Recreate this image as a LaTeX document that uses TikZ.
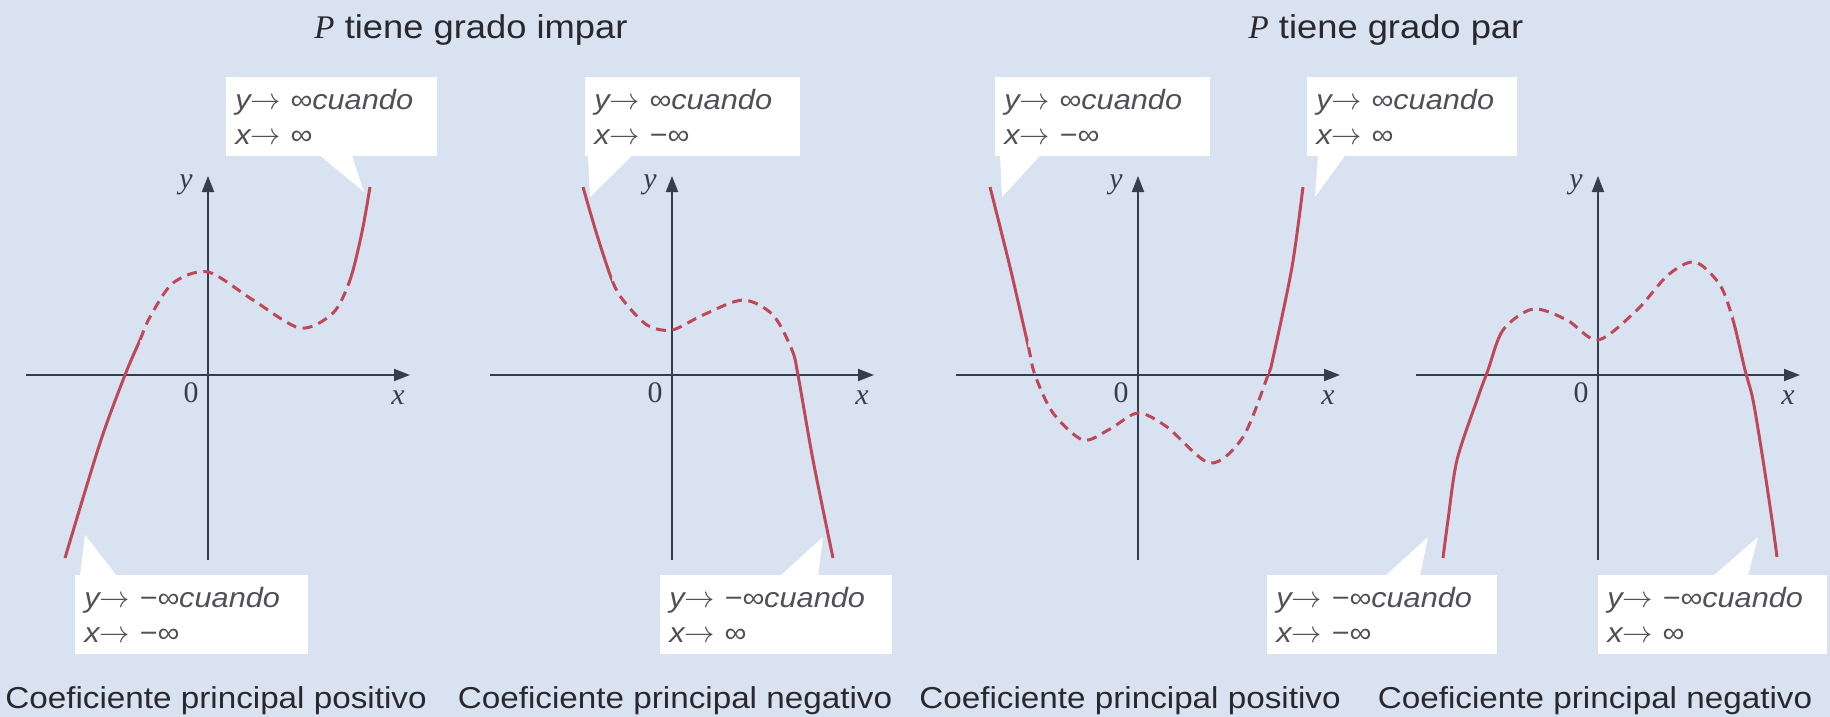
\documentclass[tikz,border=0pt]{standalone}
\usepackage{fontspec}
\setmainfont{Liberation Sans}[FakeStretch=1.1]
\newfontfamily\axfont{Liberation Serif}
\usetikzlibrary{arrows.meta,positioning,calc}
\definecolor{bgblue}{RGB}{216,226,240}
\definecolor{curvered}{RGB}{190,72,88}
\definecolor{axisgray}{RGB}{55,62,75}
\definecolor{txtgray}{RGB}{40,40,45}
\definecolor{callgray}{RGB}{80,80,88}

\tikzset{
  axisline/.style={axisgray, line width=1.1pt, -{Triangle[length=0.32cm,width=0.24cm]}},
  axlab/.style={font=\axfont\fontsize{17}{20}\selectfont, text=axisgray, inner sep=0pt},
  curvetail/.style={curvered, line width=1.7pt},
  curvebody/.style={curvered, line width=1.7pt, dash pattern=on 0.2cm off 0.13cm},
  note/.style={fill=white, anchor=north west, align=left, inner xsep=0.18cm, inner ysep=0pt,
    minimum height=1.58cm, text width=#1, text=callgray,
    font=\fontsize{15.9}{20}\selectfont\itshape},
  headline/.style={font=\fontsize{18.8}{22}\selectfont, text=txtgray, anchor=base},
  footline/.style={font=\fontsize{17.2}{20}\selectfont, text=txtgray, anchor=base},
}
\newcommand\arr{$\rightarrow$}

\begin{document}
\begin{tikzpicture}[x=0.02cm, y=-0.02cm]
  \fill[bgblue] (0,0) rectangle (1830,717);
  \useasboundingbox (0,0) rectangle (1830,717);

  % titles and captions
  \node[headline] (odd) at (471,38) {{\axfont\itshape P} tiene grado impar};
  \node[headline] (even) at (1386,38) {{\axfont\itshape P} tiene grado par};
  \node[footline] (capa) at (216,708) {Coeficiente principal positivo};
  \node[footline] (capb) at (675,708) {Coeficiente principal negativo};
  \node[footline] (capc) at (1130,708) {Coeficiente principal positivo};
  \node[footline] (capd) at (1595,708) {Coeficiente principal negativo};

  % callout boxes
  \node[note=3.86cm] (ca) at (226,77) {y\arr{} ∞cuando\\x\arr{} ∞};
  \node[note=4.3cm] (cb) at (75,575) {y\arr{} −∞cuando\\x\arr{} −∞};
  \node[note=3.94cm] (cc) at (585,77) {y\arr{} ∞cuando\\x\arr{} −∞};
  \node[note=4.28cm] (cd) at (660,575) {y\arr{} −∞cuando\\x\arr{} ∞};
  \node[note=3.94cm] (ce) at (995,77) {y\arr{} ∞cuando\\x\arr{} −∞};
  \node[note=3.84cm] (cf) at (1307,77) {y\arr{} ∞cuando\\x\arr{} ∞};
  \node[note=4.24cm] (cg) at (1267,575) {y\arr{} −∞cuando\\x\arr{} −∞};
  \node[note=4.22cm] (ch) at (1598,575) {y\arr{} −∞cuando\\x\arr{} ∞};

  \coordinate (ta) at (364,192);
  \coordinate (tb) at (85,535);
  \coordinate (tc) at (590,197);
  \coordinate (td) at (823,537);
  \coordinate (te) at (1002,197);
  \coordinate (tf) at (1315,197);
  \coordinate (tg) at (1428,537);
  \coordinate (th) at (1758,537);

  \fill[white] ($(ca.south west)+(94,-1)$) -- ($(ca.south west)+(126,-1)$) -- (ta) -- cycle;
  \fill[white] ($(cb.north west)+(5,1)$) -- ($(cb.north west)+(42,1)$) -- (tb) -- cycle;
  \fill[white] ($(cc.south west)+(3,-1)$) -- ($(cc.south west)+(47,-1)$) -- (tc) -- cycle;
  \fill[white] ($(cd.north west)+(120,1)$) -- ($(cd.north west)+(158,1)$) -- (td) -- cycle;
  \fill[white] ($(ce.south west)+(5,-1)$) -- ($(ce.south west)+(45,-1)$) -- (te) -- cycle;
  \fill[white] ($(cf.south west)+(11,-1)$) -- ($(cf.south west)+(38,-1)$) -- (tf) -- cycle;
  \fill[white] ($(cg.north west)+(118,1)$) -- ($(cg.north west)+(153,1)$) -- (tg) -- cycle;
  \fill[white] ($(ch.north west)+(115,1)$) -- ($(ch.north west)+(150,1)$) -- (th) -- cycle;

  % axes
  \foreach \ox/\k in {208/a, 672/b, 1138/c, 1598/d}{
    \begin{scope}[shift={(\ox,375)}]
      \draw[axisline] (-182,0) -- (202,0);
      \draw[axisline] (0,185) -- (0,-199);
      \node[axlab] (zero\k) at (-17,18) {0};
      \node[axlab] (x\k) at (190,23) {\itshape x};
      \node[axlab] (y\k) at (-22,-190) {\itshape y};
    \end{scope}
  }

  % the four graphs: one smooth curve each, solid outside [lo,hi], dashed inside
  \def\graph#1#2#3#4{%
    \begin{scope}[shift={(#1,375)}]
      \begin{scope}
        \clip (#2,-260) rectangle (#3,260);
        \draw[curvebody] plot[smooth] coordinates {#4};
      \end{scope}
      \begin{scope}
        \clip (-260,-260) rectangle (#2,260) (#3,-260) rectangle (260,260);
        \draw[curvetail] plot[smooth] coordinates {#4};
      \end{scope}
    \end{scope}}
  % odd degree, positive
  \graph{208}{-68}{142}{(-143,183) (-108,68) (-83,0) (-68,-35) (-58,-58) (-35,-92) (0,-103)
    (45,-75) (92,-47) (125,-62) (142,-95) (154,-143) (162,-188)}
  % odd degree, negative
  \graph{672}{-60}{120}{(-89,-188) (-75,-140) (-60,-95) (-49,-75) (-25,-50) (0,-45) (31,-60)
    (71,-75) (101,-60) (120,-25) (126,0) (141,85) (161,183)}
  % even degree, positive
  \graph{1138}{-110}{130}{(-148,-188) (-128,-108) (-110,-30) (-103,0) (-85,38) (-55,65) (-28,54)
    (0,38) (29,52) (72,88) (105,62) (130,0) (135,-17) (154,-108) (165,-188)}
  % even degree, negative
  \graph{1598}{-95}{135}{(-155,183) (-150,145) (-141,85) (-121,25) (-110,-5) (-95,-45) (-65,-66)
    (-31,-55) (0,-35) (39,-65) (70,-100) (97,-113) (122,-90) (135,-55) (147,-5) (155,25)
    (165,85) (174,145) (179,182)}
\end{tikzpicture}
\end{document}
